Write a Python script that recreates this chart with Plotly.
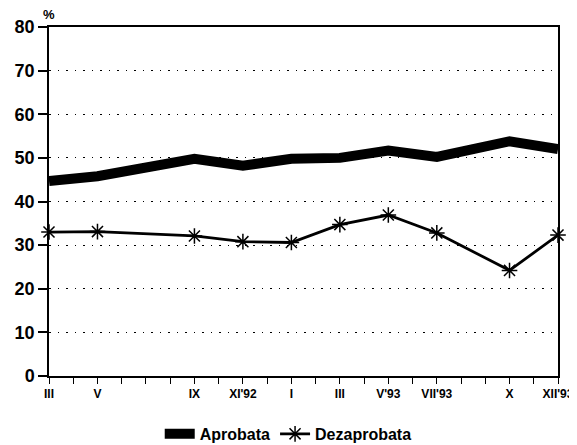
import plotly.graph_objects as go

# ---- data ----
survey_dates = ["1992-03", "1992-05", "1992-09", "1992-11", "1993-01",
                "1993-03", "1993-05", "1993-07", "1993-10", "1993-12"]
tick_labels = ["III", "V", "IX", "XI'92", "I", "III", "V'93", "VII'93", "X", "XII'93"]
aprobata = [44.7, 45.8, 49.8, 48.2, 49.8, 50.0, 51.7, 50.2, 53.8, 52.0]
dezaprobata = [33.0, 33.1, 32.1, 30.8, 30.6, 34.7, 36.9, 32.8, 24.2, 32.3]
y_ticks = [0, 10, 20, 30, 40, 50, 60, 70, 80]


def month_index(d):
    y, m = d.split("-")
    return (int(y) - 1992) * 12 + int(m) - 3


x = [month_index(d) for d in survey_dates]
n_months = x[-1] + 1
all_months = list(range(n_months))
label_map = dict(zip(x, tick_labels))
all_text = [label_map.get(i, "") for i in all_months]

FONT = "Liberation Sans"

fig = go.Figure()
fig.add_trace(go.Scatter(
    x=x, y=aprobata, name="Aprobata", mode="lines",
    line=dict(color="black", width=10),
    cliponaxis=False,
))
fig.add_trace(go.Scatter(
    x=x, y=dezaprobata, name="Dezaprobata", mode="lines+markers",
    line=dict(color="black", width=2.8),
    marker=dict(symbol="asterisk-open", size=13, color="black",
                line=dict(color="black", width=1.5)),
    cliponaxis=False,
))

fig.update_layout(
    width=569, height=437,
    margin=dict(l=41, r=19, t=19, b=69, autoexpand=False),
    paper_bgcolor="white", plot_bgcolor="white",
    font=dict(family=FONT, color="black"),
    showlegend=True,
    legend=dict(orientation="h", x=0.47, xanchor="center", y=-0.166, yanchor="middle",
                font=dict(family=FONT, size=16, weight="bold", color="black"),
                itemwidth=30, tracegroupgap=0, bgcolor="rgba(0,0,0,0)"),
    annotations=[dict(text="<b>%</b>", xref="paper", yref="paper", x=0, y=1,
                      xanchor="center", yanchor="bottom", yshift=3, showarrow=False,
                      font=dict(family=FONT, size=13, color="black"))],
)

fig.update_xaxes(
    range=[0, n_months - 1], automargin=False,
    tickmode="array", tickvals=all_months, ticktext=all_text,
    ticks="outside", ticklen=6, tickwidth=1.3, tickcolor="black",
    tickfont=dict(family=FONT, size=12, weight="bold", color="black"),
    showline=True, linecolor="black", linewidth=1.5, mirror=True,
    showgrid=False, zeroline=False, tickangle=0,
)
fig.update_yaxes(
    range=[0, 80], automargin=False,
    tickmode="array", tickvals=y_ticks, ticktext=[str(v) for v in y_ticks],
    ticks="outside", ticklen=9, tickwidth=1.5, tickcolor="black",
    tickfont=dict(family=FONT, size=18, weight="bold", color="black"),
    showline=True, linecolor="black", linewidth=1.5, mirror=True,
    showgrid=True, gridcolor="black", gridwidth=1, griddash="1.5px,7px",
    zeroline=False,
)

fig.write_html("out.html")
